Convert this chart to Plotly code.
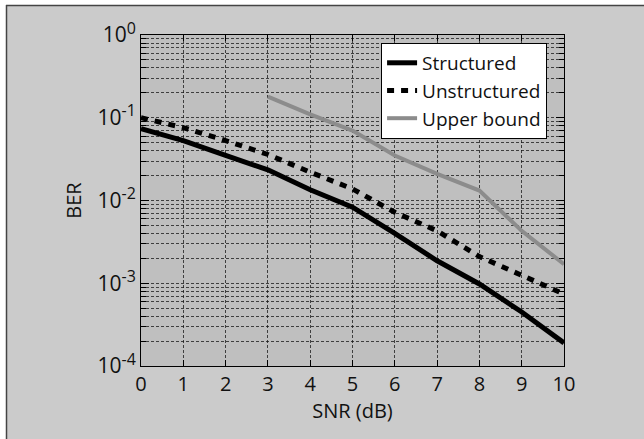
import plotly.graph_objects as go

snr = [0, 1, 2, 3, 4, 5, 6, 7, 8, 9, 10]
structured = [0.074, 0.053, 0.035, 0.0235, 0.0135, 0.0083, 0.0040, 0.00187, 0.00098, 0.00045, 0.00019]
unstructured = [0.100, 0.076, 0.053, 0.036, 0.022, 0.0138, 0.0072, 0.0043, 0.0021, 0.00123, 0.00074]
snr_ub = [3, 4, 5, 6, 7, 8, 9, 10]
upper_bound = [0.18, 0.11, 0.07, 0.035, 0.021, 0.0132, 0.0043, 0.0017]

x_ticks = list(range(0, 11))
y_major = [1e-4, 1e-3, 1e-2, 1e-1, 1e0]
y_exp = ["-4", "-3", "-2", "-1", "0"]
y_major_text = ["10<sup><span style='font-size:16px'>%s</span></sup>" % e for e in y_exp]
y_minor = [m * 10.0 ** e for e in range(-4, 0) for m in range(2, 10)]

FONT = "Open Sans"

fig = go.Figure()
fig.add_trace(go.Scatter(x=snr, y=structured, mode="lines", name="Structured",
                         line=dict(color="#000000", width=5)))
fig.add_trace(go.Scatter(x=snr, y=unstructured, mode="lines", name="Unstructured",
                         line=dict(color="#000000", width=5, dash="7px,7px")))
fig.add_trace(go.Scatter(x=snr_ub, y=upper_bound, mode="lines", name="Upper bound",
                         line=dict(color="#8c8c8c", width=4)))

L, R, T, B = 141, 80, 35, 73
W, H = 644, 439
pw, ph = W - L - R, H - T - B


def px_x(p):
    return (p - L) / pw


def px_y(p):
    return (H - B - p) / ph


shapes = [
    dict(type="rect", xref="paper", yref="paper", x0=px_x(-5), x1=px_x(6), y0=px_y(H + 5), y1=px_y(-5),
         fillcolor="white", line=dict(width=0), layer="below"),
    dict(type="rect", xref="paper", yref="paper", x0=px_x(-5), x1=px_x(W + 5), y0=px_y(5), y1=px_y(-5),
         fillcolor="white", line=dict(width=0), layer="below"),
    dict(type="line", xref="paper", yref="paper", x0=px_x(6), x1=px_x(W), y0=px_y(5.5), y1=px_y(5.5),
         line=dict(color="#444444", width=1.5), layer="below"),
    dict(type="line", xref="paper", yref="paper", x0=px_x(6.5), x1=px_x(6.5), y0=px_y(5), y1=px_y(H),
         line=dict(color="#444444", width=1.5), layer="below"),
]

grid = dict(gridcolor="rgba(20,20,20,0.75)", gridwidth=1, griddash="3px,2px")

fig.update_layout(
    width=W, height=H,
    margin=dict(l=L, r=R, t=T, b=B, pad=0, autoexpand=False),
    paper_bgcolor="#cbcbcb",
    plot_bgcolor="#bfbfbf",
    font=dict(family=FONT, size=20, color="#111111"),
    showlegend=True,
    legend=dict(x=0.96, y=0.976, xanchor="right", yanchor="top",
                bgcolor="white", bordercolor="black", borderwidth=1,
                font=dict(family=FONT, size=19, color="#111111"),
                tracegroupgap=0, itemwidth=30),
    shapes=shapes,
    xaxis=dict(range=[0, 10], tickvals=x_ticks, ticktext=[str(v) for v in x_ticks],
               ticks="inside", ticklen=6, tickcolor="black", mirror="ticks",
               showline=True, linecolor="black", linewidth=1,
               showgrid=True, zeroline=False, automargin=False,
               title=dict(text="SNR (dB)", standoff=0, font=dict(size=20)),
               tickfont=dict(size=20), **grid),
    yaxis=dict(type="log", range=[-4, 0], tickvals=y_major, ticktext=y_major_text,
               ticks="inside", ticklen=8, tickcolor="black", mirror="ticks",
               showline=True, linecolor="black", linewidth=1,
               showgrid=True, zeroline=False, automargin=False,
               title=dict(text="BER", standoff=10, font=dict(size=20)),
               tickfont=dict(size=21),
               minor=dict(tickvals=y_minor, ticks="inside", ticklen=5, tickcolor="black",
                          showgrid=True, gridcolor="rgba(20,20,20,0.75)", gridwidth=1,
                          griddash="3px,2px"),
               **grid),
)

fig.write_html("out.html", config={"displayModeBar": False},
               post_script="document.body.style.margin='0';")
